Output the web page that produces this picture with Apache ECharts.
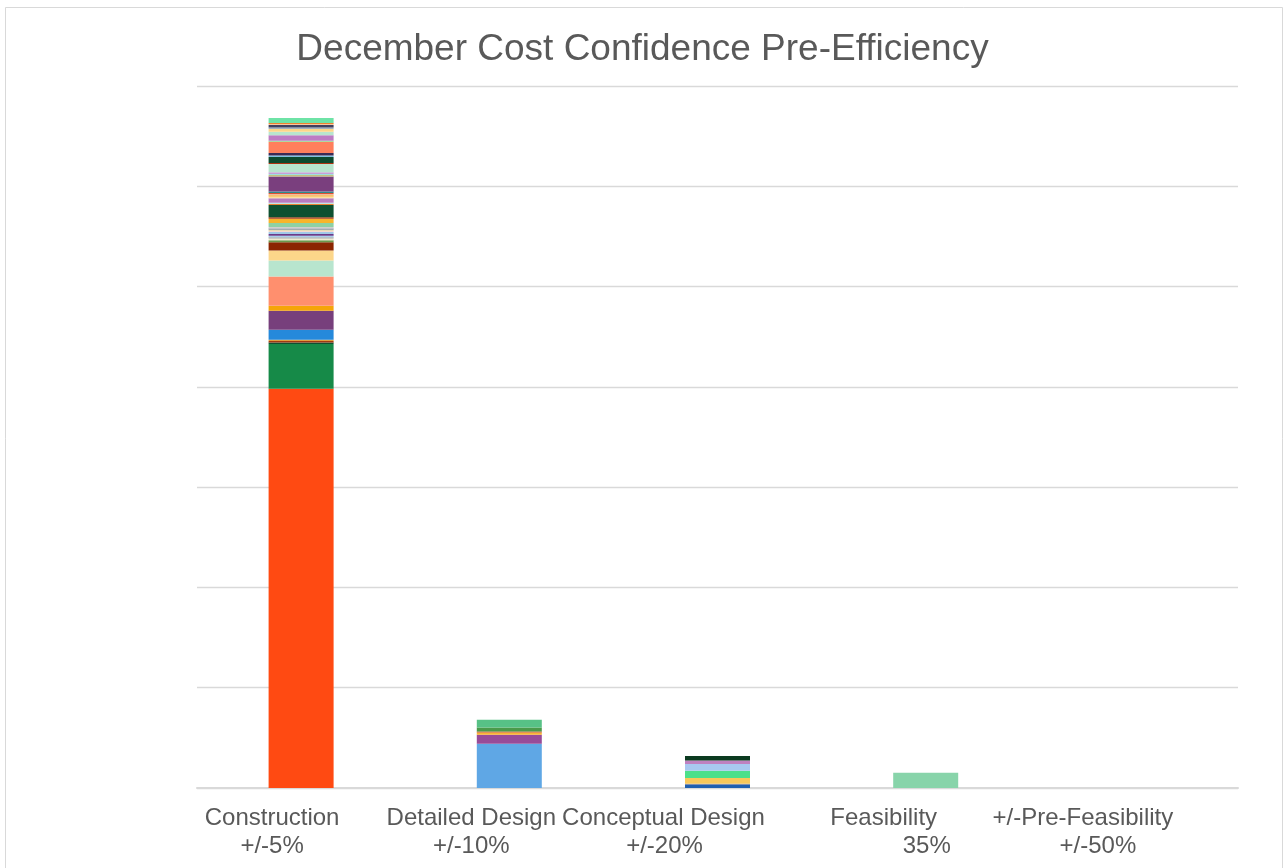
<!DOCTYPE html>
<html>
<head>
<meta charset="utf-8">
<script src="https://cdn.jsdelivr.net/npm/echarts@6/dist/echarts.min.js"></script>
<style>
  html, body { margin: 0; padding: 0; background: #fff; }
  #main { width: 1285px; height: 868px; }
</style>
</head>
<body>
<div id="main"></div>
<script>
// categories (x axis)
const categories = ['Construction\n+/-5%', 'Detailed Design\n+/-10%', 'Conceptual Design\n+/-20%', 'Feasibility\n35%', '+/-Pre-Feasibility\n+/-50%'];

// stacked segments per category, bottom to top
const constructionValues = [398, 44.7, 1.6, 1.4, 1.3, 10, 19, 5, 29, 16, 10, 8.3, 2, 1.7, 1.3, 1.4, 1.6, 2, 1.4, 1.3, 1, 1.3, 4, 4.4, 1.3, 12.3, 1.4, 1, 4.3, 1.7, 1.3, 1, 1.3, 1.4, 15, 1.6, 1, 1.7, 8.3, 1, 6, 1.4, 2.6, 11, 1, 5.7, 3.3, 2.7, 1.7, 2.3, 1, 1, 5];
const detailedValues = [44, 9, 2.3, 1, 4, 7.7];
const conceptualValues = [3, 1.3, 5.7, 7.3, 6.7, 3.3, 4.7];
const feasibilityValues = [15.3];
const preFeasibilityValues = [];

const constructionColors = ['#FF4A12', '#168A48', '#0E5030', '#A03A10', '#E0A040', '#2589DB', '#773F7C', '#F5A50A', '#FF8F6E', '#B8E5CE', '#FCD68A', '#8B2500', '#6B9A4B', '#F0EAD0', '#A0A0A0', '#A8CDEB', '#6A3A8A', '#A0C8E8', '#F5D8D0', '#E0D0A0', '#5A7090', '#D0D0D0', '#8ED1A5', '#F7B52C', '#A83A10', '#0E5030', '#E88030', '#B0E8E8', '#B87BC0', '#FCE0A0', '#F5A623', '#F8D0B0', '#E05030', '#2E8B8B', '#7A3F7E', '#C0C080', '#A0E0E0', '#C8A0D8', '#B8E5CE', '#B03010', '#0E4A2E', '#80C0E0', '#3B2A55', '#FF7F5C', '#90D890', '#BD7BC4', '#B8E5CE', '#FCD68A', '#A0B0C0', '#404060', '#F8C8A0', '#F08030', '#6EE3A6'];
const detailedColors = ['#5FA7E5', '#984B98', '#F9B233', '#C84B1A', '#4A9A4A', '#57C186'];
const conceptualColors = ['#2060B0', '#8090B0', '#FAC85A', '#4DE08A', '#A8C8F0', '#BF80C0', '#0B3A20'];
const feasibilityColors = ['#88D4AA'];
const preFeasibilityColors = [];

// label line shifts (px) to mimic the original's uneven label placement
const labelShift = [[-29, -29], [-38, -38], [-54, -53], [-42, 1], [-51, -36]];

const textFont = "'Liberation Sans', Arial, sans-serif";

let stacks = [constructionValues, detailedValues, conceptualValues, feasibilityValues, preFeasibilityValues];
let stackColors = [constructionColors, detailedColors, conceptualColors, feasibilityColors, preFeasibilityColors];
let depth = Math.max.apply(null, stacks.map(s => s.length));

let series = [];
for (let i = 0; i < depth; i++) {
  series.push({
    type: 'bar',
    stack: 'cost',
    barWidth: 65,
    silent: true,
    animation: false,
    data: stacks.map((vals, c) => i < vals.length ? {
      value: vals[i],
      itemStyle: { color: stackColors[c][i] }
    } : '-')
  });
}

let rich = {};
labelShift.forEach((s, i) => {
  s.forEach((d, j) => {
    rich['l' + i + '_' + j] = {
      fontFamily: textFont,
      fontSize: 24,
      lineHeight: 28,
      color: '#595959',
      padding: d < 0 ? [0, -2 * d, 0, 0] : [0, 0, 0, 2 * d]
    };
  });
});

let chart = echarts.init(document.getElementById('main'));
chart.setOption({
  backgroundColor: '#ffffff',
  animation: false,
  title: {
    text: 'December Cost Confidence Pre-Efficiency',
    left: 'center',
    top: 31,
    padding: 0,
    textStyle: {
      fontFamily: textFont,
      fontSize: 37,
      fontWeight: 'normal',
      color: '#595959'
    }
  },
  graphic: [{
    type: 'rect',
    shape: { x: 5.5, y: 7.5, width: 1277, height: 900 },
    style: { fill: 'none', stroke: '#D9D9D9', lineWidth: 1 },
    silent: true
  }],
  grid: {
    left: 197,
    right: 47,
    top: 86,
    bottom: 80,
    outerBoundsMode: 'none'
  },
  xAxis: {
    type: 'category',
    data: categories,
    axisTick: { show: false },
    axisLine: { lineStyle: { color: '#D9D9D9', width: 2 } },
    axisLabel: {
      interval: 0,
      margin: 16,
      hideOverlap: false,
      formatter: function (value, index) {
        let lines = value.split('\n');
        return lines.map((t, j) => '{l' + index + '_' + j + '|' + t + '}').join('\n');
      },
      rich: rich
    }
  },
  yAxis: {
    type: 'value',
    min: 0,
    max: 700,
    interval: 100,
    axisLabel: { show: false },
    axisLine: { show: false },
    axisTick: { show: false },
    splitLine: { lineStyle: { color: '#D9D9D9', width: 1.3 } }
  },
  series: series
});
</script>
</body>
</html>
